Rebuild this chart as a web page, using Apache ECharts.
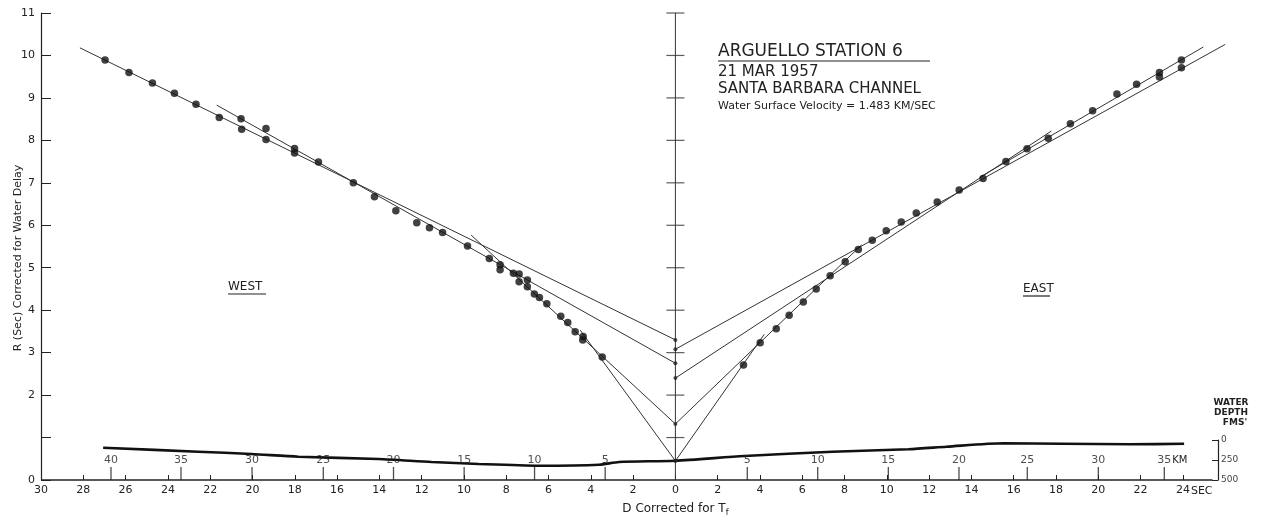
<!DOCTYPE html>
<html><head><meta charset="utf-8">
<script src="https://cdn.jsdelivr.net/npm/echarts@6/dist/echarts.min.js"></script>
<style>html,body{margin:0;padding:0;background:#fff}#c{width:1274px;height:522px}</style>
</head><body><div id="c"></div>
<script>
// ---- data (x = D in sec, west negative; y = R in sec) ----
const westPoints = [[-26.97,9.89],[-25.84,9.60],[-24.73,9.35],[-23.69,9.11],[-22.67,8.85],[-21.57,8.54],
  [-20.54,8.51],[-20.51,8.26],[-19.36,8.28],[-19.36,8.02],[-18.01,7.81],[-18.01,7.70],[-16.88,7.49],
  [-15.23,7.00],[-14.23,6.67],[-13.22,6.34],[-12.23,6.06],[-11.63,5.94],[-11.01,5.83],[-9.83,5.51],
  [-8.80,5.22],[-8.29,5.07],[-8.29,4.95],[-7.66,4.87],[-7.39,4.85],[-7.39,4.67],[-7.00,4.71],[-7.00,4.55],
  [-6.67,4.38],[-6.43,4.30],[-6.08,4.15],[-5.42,3.86],[-5.09,3.71],[-4.74,3.49],[-4.36,3.38],[-4.38,3.30],
  [-3.46,2.90]];
const eastPoints = [[3.22,2.71],[4.01,3.23],[4.77,3.56],[5.38,3.88],[6.05,4.19],[6.66,4.50],[7.32,4.81],
  [8.03,5.14],[8.65,5.43],[9.31,5.65],[9.97,5.87],[10.68,6.08],[11.39,6.29],[12.38,6.55],[13.42,6.83],
  [14.55,7.10],[15.63,7.50],[16.63,7.80],[17.63,8.05],[18.68,8.39],[19.73,8.70],[20.88,9.09],[21.81,9.32],
  [22.89,9.60],[22.89,9.49],[23.93,9.89],[23.93,9.71]];
const lineW1 = [[-4.50,3.53],[0,0.45]];
const lineW2 = [[-9.66,5.77],[0,1.32]];
const lineW3 = [[-28.16,10.18],[0,3.30]];
const lineW4 = [[-21.69,8.83],[0,2.75]];
const lineE1 = [[0,0.45],[4.2,3.43]];
const lineE2 = [[0,1.32],[8.81,5.54]];
const lineE3 = [[0,3.08],[26.0,10.26]];
const lineE4 = [[0,2.40],[17.78,8.22]];
const lineE5 = [[14.42,7.14],[24.97,10.20]];
const intercepts = [[0,0.45],[0,1.32],[0,2.40],[0,2.75],[0,3.08],[0,3.30]];
const centerAxis = [[0,0],[0,11]];
const centerTicks = [1,2,3,4,5,6,7,8,9,10,11];
const baseAxis = [[-30,0],[25.4,0]];   // extent of the drawn D axis line
// water depth profile: [sec, fathoms]
const depthProfile = [[-27.06,96],[-22.56,146],[-20.05,175],[-17.82,209],[-14.03,238],[-11.52,275],
  [-9.29,300],[-6.45,321],[-3.6,309],[-2.65,275],[0,259],[3.27,200],[7.44,146],[11.04,116],[12.84,84],
  [15.55,41],[18.29,46],[21.52,54],[24.08,46]];
const depthTicks = [0,250,500];
const secTicks = [-30,-28,-26,-24,-22,-20,-18,-16,-14,-12,-10,-8,-6,-4,-2,0,2,4,6,8,10,12,14,16,18,20,22,24];
const rTicks = [0,1,2,3,4,5,6,7,8,9,10,11];
const rLabels = [0,2,3,4,5,6,7,8,9,10,11];
const kmWest = [40,35,30,25,20,15,10,5];
const kmWestPos = [-26.69,-23.38,-20.02,-16.65,-13.33,-9.99,-6.66,-3.32];
const kmEast = [5,10,15,20,25,30,35];
const kmEastPos = [3.40,6.73,10.07,13.41,16.64,20.00,23.12];

const FONT = '"DejaVu Sans", "Liberation Sans", sans-serif';
const INK = '#222';
const chart = echarts.init(document.getElementById('c'), null, {renderer:'canvas'});

const kmData = kmWestPos.map((p,i)=>[p,0,kmWest[i]]).concat(kmEastPos.map((p,i)=>[p,0,kmEast[i]]));
function lineSeries(d, color, width){
  return {type:'line', data:d, xAxisIndex:0, yAxisIndex:0, showSymbol:false, clip:false, silent:true,
    lineStyle:{color:color||'#333', width:width||1}, z:3, animation:false};
}
const option = {
  backgroundColor:'#fff',
  animation:false,
  grid:[{left:41, right:34, top:13, bottom:42},{left:41, right:62, top:440, bottom:42}],
  xAxis:[
    {type:'value', gridIndex:0, min:-30, max:26.7, interval:2,
     axisLine:{show:false, onZero:false},
     axisTick:{inside:true, length:5, customValues:secTicks, lineStyle:{color:INK}},
     axisLabel:{customValues:secTicks, formatter:v=>String(Math.abs(v)), color:INK, fontSize:11, fontFamily:FONT, margin:5},
     splitLine:{show:false}},
    {type:'value', gridIndex:1, min:-30, max:25.4, show:false}
  ],
  yAxis:[
    {type:'value', gridIndex:0, min:0, max:11, interval:1,
     axisLine:{show:true, onZero:false, lineStyle:{color:INK, width:1.2}},
     axisTick:{show:true, inside:true, length:10, customValues:rTicks, lineStyle:{color:INK}},
     axisLabel:{customValues:rLabels, color:INK, fontSize:11, fontFamily:FONT, margin:6},
     splitLine:{show:false}},
    {type:'value', gridIndex:1, min:0, max:500, interval:250, inverse:true, position:'right', offset:6,
     axisLine:{show:true, onZero:false, lineStyle:{color:INK, width:1.2}},
     axisTick:{show:true, inside:true, length:6, customValues:depthTicks, lineStyle:{color:INK}},
     axisLabel:{customValues:depthTicks, color:'#444', fontSize:9, fontFamily:FONT, margin:3},
     splitLine:{show:false}}
  ],
  series:[
    lineSeries(baseAxis, INK, 1.3),
    lineSeries(centerAxis, '#333', 1),
    {type:'scatter', data:centerTicks.map(v=>[0,v]), symbol:'rect', symbolSize:[18,1.2], itemStyle:{color:'#333'}, silent:true, z:2},
    lineSeries(lineW1), lineSeries(lineW2), lineSeries(lineW3), lineSeries(lineW4),
    lineSeries(lineE1), lineSeries(lineE2), lineSeries(lineE3), lineSeries(lineE4), lineSeries(lineE5),
    {type:'scatter', data:intercepts, symbol:'circle', symbolSize:4, itemStyle:{color:'#222'}, silent:true, z:4},
    {type:'scatter', name:'West', data:westPoints, symbol:'circle', symbolSize:7.5, itemStyle:{color:'#111'}, z:5},
    {type:'scatter', name:'East', data:eastPoints, symbol:'circle', symbolSize:7.5, itemStyle:{color:'#111'}, z:5},
    {type:'scatter', data:kmData, symbol:'rect', symbolSize:[1.3,13], symbolOffset:[0,'-50%'],
     itemStyle:{color:INK}, silent:true, z:4,
     label:{show:true, position:'top', distance:1, formatter:p=>String(p.value[2]), color:INK, fontSize:11, fontFamily:FONT}},
    {type:'line', data:depthProfile, xAxisIndex:1, yAxisIndex:1, showSymbol:false, smooth:0.25, silent:true,
     lineStyle:{color:'#111', width:2.6}, z:3}
  ]
};
chart.setOption(option);

const pSec = chart.convertToPixel({xAxisIndex:0, yAxisIndex:0}, [24,0]);
const pKm = chart.convertToPixel({xAxisIndex:0, yAxisIndex:0}, [kmEastPos[kmEastPos.length-1],0]);
const pZero = chart.convertToPixel({xAxisIndex:0, yAxisIndex:0}, [0,0]);
function txt(x,y,t,size,extra){
  return Object.assign({type:'text', x:x, y:y, silent:true,
    style:{text:t, fontSize:size, fontFamily:FONT, fill:INK, verticalAlign:'middle', align:'left'}}, extra||{});
}
function uline(x1,x2,y){ return {type:'line', silent:true, shape:{x1:x1,y1:y,x2:x2,y2:y}, style:{stroke:INK, lineWidth:1.2}}; }
chart.setOption({graphic:[
  txt(718,52,'ARGUELLO STATION 6',17),
  uline(718,930,61),
  txt(718,72,'21 MAR 1957',15),
  txt(718,89,'SANTA BARBARA CHANNEL',15),
  txt(718,106,'Water Surface Velocity = 1.483 KM/SEC',11),
  txt(228,287,'WEST',12), uline(228,266,294),
  txt(1023,289,'EAST',12), uline(1023,1050,296),
  {type:'text', x:1231, y:403, silent:true, style:{text:'WATER', fontSize:9, fontWeight:'bold', fontFamily:FONT, fill:INK, align:'center', verticalAlign:'middle'}},
  {type:'text', x:1231, y:413, silent:true, style:{text:'DEPTH', fontSize:9, fontWeight:'bold', fontFamily:FONT, fill:INK, align:'center', verticalAlign:'middle'}},
  {type:'text', x:1235, y:423, silent:true, style:{text:"FMS'", fontSize:9, fontWeight:'bold', fontFamily:FONT, fill:INK, align:'center', verticalAlign:'middle'}},
  txt(pSec[0]+8, pSec[1]+11, 'SEC', 11),
  txt(pKm[0]+8, pKm[1]-20, 'KM', 10),
  {type:'text', x:pZero[0], y:pZero[1]+29, silent:true,
   style:{text:'D Corrected for T{sub|f}', fontSize:12, fontFamily:FONT, fill:INK, align:'center', verticalAlign:'middle',
     rich:{sub:{fontSize:8, fontFamily:FONT, fill:INK, padding:[7,0,0,0]}}}},
  {type:'text', x:18, y:258, rotation:Math.PI/2, silent:true,
   style:{text:'R (Sec) Corrected for Water Delay', fontSize:11, fontFamily:FONT, fill:INK, align:'center', verticalAlign:'middle'}}
]});
</script>
</body></html>
